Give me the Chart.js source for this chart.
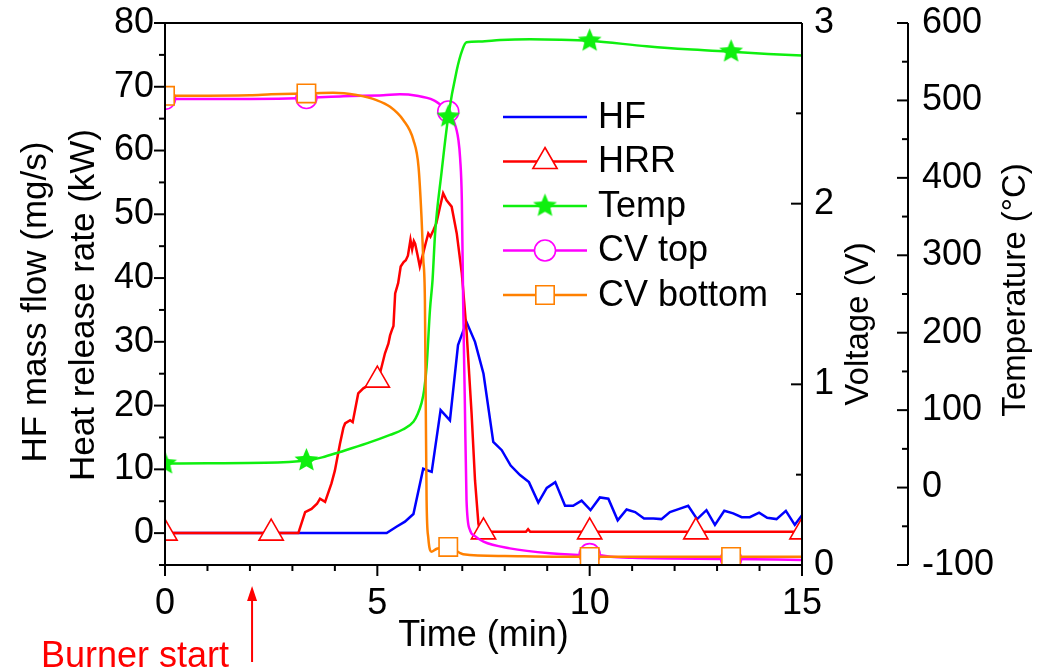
<!DOCTYPE html>
<html><head><meta charset="utf-8">
<script src="https://cdn.jsdelivr.net/npm/chart.js@4.4.0/dist/chart.umd.min.js"></script>
<style>html,body{margin:0;padding:0;background:#fff;}#wrap{width:1045px;height:672px;}</style>
</head><body><div id="wrap"><canvas id="c" width="1045" height="672"></canvas></div>
<script>
// ---------- data ----------
const hfTime  = [0, 5.22, 5.45, 5.65, 5.85, 6.08, 6.28, 6.49, 6.71, 6.9, 7.1, 7.3, 7.5, 7.73, 7.93, 8.14, 8.36, 8.57, 8.79, 8.99, 9.19, 9.42, 9.61, 9.81, 10.02, 10.24, 10.44, 10.66, 10.87, 11.07, 11.28, 11.5, 11.69, 11.89, 12.11, 12.32, 12.53, 12.75, 12.95, 13.17, 13.38, 13.58, 13.77, 13.99, 14.18, 14.4, 14.62, 14.83, 15.0];
const hfValue = [0, 0, 1.0, 1.8, 3.0, 10.1, 9.6, 19.3, 17.7, 29.5, 33.1, 30.0, 25.0, 14.3, 13.0, 10.6, 9.1, 8.0, 4.8, 7.1, 8.0, 4.3, 4.3, 5.1, 3.6, 5.6, 5.4, 2.0, 3.7, 3.3, 2.3, 2.3, 2.2, 3.3, 3.8, 4.3, 2.2, 3.6, 1.3, 3.5, 3.1, 2.5, 2.5, 3.2, 2.4, 2.2, 3.5, 1.3, 2.8];

const hrrTime  = [0, 2.5, 3.14, 3.30, 3.45, 3.58, 3.65, 3.77, 3.92, 4.0, 4.12, 4.2, 4.24, 4.36, 4.42, 4.55, 4.67, 4.8, 5.0, 5.06, 5.18, 5.26, 5.30, 5.34, 5.38, 5.42, 5.49, 5.55, 5.62, 5.67, 5.72, 5.78, 5.82, 5.86, 5.89, 5.95, 6.0, 6.08, 6.14, 6.2, 6.25, 6.32, 6.39, 6.47, 6.55, 6.63, 6.75, 6.87, 6.99, 7.1, 7.22, 7.3, 7.38, 7.42, 7.5, 8.5, 8.55, 8.6, 10, 12.5, 15];
const hrrValue = [0, 0, 0, 3.3, 3.8, 4.6, 5.4, 4.9, 7.8, 9.8, 14.0, 16.5, 17.2, 17.7, 17.4, 21.9, 22.7, 23.2, 24.0, 25.0, 28.2, 29.7, 31.0, 31.8, 32.5, 37.6, 39.2, 41.8, 42.5, 42.8, 43.5, 46.0, 44.5, 45.8, 45.4, 43.5, 41.8, 43.9, 45.5, 47.0, 46.5, 47.5, 48.6, 51.0, 53.3, 52.2, 51.2, 47.0, 40.7, 31.8, 18.7, 8.3, 1.5, 0.2, 0.2, 0.2, 0.6, 0.2, 0.2, 0.2, 0.2];
const hrrMarkers = [0, 2.5, 5, 7.5, 10, 12.5, 15];

const tempTime  = [0, 1, 2.35, 3.33, 3.7, 4.12, 4.75, 5.3, 5.6, 5.85, 5.95, 6.04, 6.1, 6.16, 6.24, 6.3, 6.36, 6.51, 6.67, 6.87, 7.0, 7.1, 7.42, 7.89, 8.59, 9.3, 10, 11.34, 12.3, 13.33, 14.2, 15];
const tempValue = [31, 31.5, 32, 35, 39, 46, 57, 68, 75, 85, 95, 109, 125, 156, 230, 268, 328, 406, 479, 539, 565, 575, 576, 578, 579, 578.5, 577, 570, 566, 563, 560, 558];
const tempMarkers = [0, 3.33, 6.67, 10, 13.33];

const cvTopTime  = [0, 2, 3.33, 4.2, 5.14, 5.53, 5.93, 6.32, 6.55, 6.67, 6.79, 6.91, 6.95, 6.99, 7.02, 7.06, 7.1, 7.18, 7.3, 7.5, 8.12, 9.06, 9.93, 10, 10.5, 11, 13.33, 15];
const cvTopValue = [2.58, 2.58, 2.585, 2.595, 2.60, 2.605, 2.597, 2.573, 2.536, 2.51, 2.463, 2.352, 2.25, 2.02, 1.47, 0.91, 0.36, 0.194, 0.16, 0.129, 0.092, 0.065, 0.055, 0.06, 0.045, 0.04, 0.033, 0.028];
const cvTopMarkers = [0, 3.33, 6.67, 10, 13.33];

const cvBotTime  = [0, 2, 2.5, 3.33, 3.96, 4.51, 4.98, 5.3, 5.61, 5.85, 5.97, 6.04, 6.08, 6.12, 6.14, 6.16, 6.2, 6.28, 6.4, 6.67, 7.02, 8, 10, 13.33, 15];
const cvBotValue = [2.597, 2.6, 2.605, 2.61, 2.614, 2.601, 2.573, 2.536, 2.463, 2.352, 2.204, 1.927, 1.7, 1.467, 0.9, 0.36, 0.15, 0.074, 0.09, 0.1, 0.06, 0.05, 0.045, 0.045, 0.045];
const cvBotMarkers = [0, 3.33, 6.67, 10, 13.33];

const xTicks = [0, 5, 10, 15];
const leftTicks = [0, 10, 20, 30, 40, 50, 60, 70, 80];
const voltTicks = [0, 1, 2, 3];
const tempTicks = [-100, 0, 100, 200, 300, 400, 500, 600];
const burnerStart = 2.05;
const seriesNames = ['HF', 'HRR', 'Temp', 'CV top', 'CV bottom'];

// ---------- helpers ----------
const FONT = '"Liberation Sans", Arial, sans-serif';
const FS = 36;
function pts(t, v) { return t.map((x, i) => ({x: x, y: v[i]})); }
function makeStar(r, color) {
  const s = Math.ceil(r * 2 + 4);
  const c = document.createElement('canvas');
  c.width = s; c.height = s;
  const g = c.getContext('2d');
  g.beginPath();
  for (let i = 0; i < 10; i++) {
    const a = -Math.PI / 2 + i * Math.PI / 5;
    const rr = i % 2 ? r * 0.45 : r;
    g.lineTo(s / 2 + rr * Math.cos(a), s / 2 + rr * Math.sin(a));
  }
  g.closePath(); g.fillStyle = color; g.fill();
  return c;
}
const GREEN = '#0FEF0F';
const star = makeStar(12.5, GREEN);
function markerRadius(list, r) {
  return ctx => (ctx.raw && list.some(m => Math.abs(m - ctx.raw.x) < 1e-9)) ? r : 0;
}

const datasets = [
  {label: 'CV bottom', data: pts(cvBotTime, cvBotValue), yAxisID: 'yV', borderColor: '#FF8000', backgroundColor: '#FFFFFF',
   borderWidth: 2.5, pointStyle: 'rect', pointRadius: markerRadius(cvBotMarkers, 13), pointBorderWidth: 1.6,
   pointBackgroundColor: '#FFFFFF', pointBorderColor: '#FF8000', cubicInterpolationMode: 'monotone', order: 0},
  {label: 'Temp', data: pts(tempTime, tempValue), yAxisID: 'yT', borderColor: GREEN, backgroundColor: GREEN,
   borderWidth: 2.5, pointStyle: star, pointRadius: markerRadius(tempMarkers, 12), cubicInterpolationMode: 'monotone', order: 1},
  {label: 'CV top', data: pts(cvTopTime, cvTopValue), yAxisID: 'yV', borderColor: '#FF00FF', backgroundColor: '#FFFFFF',
   borderWidth: 2.5, pointStyle: 'circle', pointRadius: markerRadius(cvTopMarkers, 10.5), pointBorderWidth: 1.6,
   pointBackgroundColor: '#FFFFFF', pointBorderColor: '#FF00FF', cubicInterpolationMode: 'monotone', order: 2},
  {label: 'HRR', data: pts(hrrTime, hrrValue), yAxisID: 'y', borderColor: '#FF0000', backgroundColor: '#FFFFFF',
   borderWidth: 2.5, pointStyle: 'triangle', pointRadius: markerRadius(hrrMarkers, 14), pointBorderWidth: 1.6,
   pointBackgroundColor: '#FFFFFF', pointBorderColor: '#FF0000', tension: 0, order: 3},
  {label: 'HF', data: pts(hfTime, hfValue), yAxisID: 'y', borderColor: '#0000FF', backgroundColor: '#0000FF',
   borderWidth: 2.5, pointRadius: 0, tension: 0, order: 4}
];
datasets.forEach(d => { d.clip = 0; d.pointHoverRadius = d.pointRadius; });

// ---------- custom drawing: axes, ticks, titles, legend, annotation ----------
function drawMarker(ctx, ds, x, y) {
  const st = ds.pointStyle;
  if (st && typeof st === 'object') { ctx.drawImage(st, x - st.width / 2, y - st.height / 2); return; }
  if (!st) return;
  const r = {rect: 13, circle: 10.5, triangle: 14}[st];
  ctx.save();
  ctx.fillStyle = '#FFFFFF'; ctx.strokeStyle = ds.borderColor; ctx.lineWidth = 1.6;
  if (Chart.helpers && Chart.helpers.drawPoint) {
    Chart.helpers.drawPoint(ctx, {pointStyle: st, radius: r, rotation: 0, borderWidth: 1.6}, x, y);
  }
  ctx.restore();
}

const decor = {
  id: 'decor',
  afterDraw(chart) {
    const ctx = chart.ctx, a = chart.chartArea;
    const sx = chart.scales.x, sy = chart.scales.y, sv = chart.scales.yV, st = chart.scales.yT;
    ctx.save();
    ctx.strokeStyle = '#000'; ctx.lineWidth = 2;
    const L = (x1, y1, x2, y2) => { ctx.beginPath(); ctx.moveTo(x1, y1); ctx.lineTo(x2, y2); ctx.stroke(); };
    const MAJ = 11, MIN = 6;
    L(a.left, a.top, a.left, a.bottom);
    L(a.left - MAJ, a.top, a.right, a.top);
    L(a.left, a.bottom, a.right, a.bottom);
    L(a.right, a.top, a.right, a.bottom);
    const tx = st.left;
    L(tx, a.top, tx, a.bottom);
    const isMaj = (v, m) => Math.abs(v / m - Math.round(v / m)) < 1e-6;
    for (let v = -5; v <= 80.001; v += 5) {
      const y = sy.getPixelForValue(v);
      L(a.left, y, a.left - (isMaj(v, 10) ? MAJ : MIN), y);
    }
    for (let v = 0; v <= 15.001; v += 1) {
      const x = sx.getPixelForValue(v);
      L(x, a.bottom, x, a.bottom + (isMaj(v, 5) ? MAJ : MIN));
    }
    for (let v = 0; v <= 3.001; v += 0.5) {
      const y = sv.getPixelForValue(v);
      L(a.right, y, a.right - (isMaj(v, 1) ? MAJ : MIN), y);
    }
    for (let v = -100; v <= 600.001; v += 50) {
      const y = st.getPixelForValue(v);
      L(tx, y, tx - (isMaj(v, 100) ? MAJ : MIN), y);
    }
    // axis titles
    ctx.fillStyle = '#000';
    ctx.font = FS + 'px ' + FONT;
    ctx.textAlign = 'center'; ctx.textBaseline = 'middle';
    ctx.fillText('Time (min)', (a.left + a.right) / 2, 636);
    const vt = (txt, x, y, size) => {
      ctx.save(); ctx.font = size + 'px ' + FONT; ctx.translate(x, y); ctx.rotate(-Math.PI / 2);
      ctx.fillText(txt, 0, 0); ctx.restore();
    };
    vt('HF mass flow (mg/s)', 36, 302, 35);
    vt('Heat release rate (kW)', 84, 305, 35);
    vt('Voltage (V)', 859, 324, 33);
    vt('Temperature (\u00B0C)', 1016, 290, 33);
    // legend
    ctx.textAlign = 'left';
    const byLabel = {}; chart.data.datasets.forEach(d => byLabel[d.label] = d);
    seriesNames.forEach((name, i) => {
      const d = byLabel[name];
      const y = 117 + i * 44.5;
      ctx.strokeStyle = d.borderColor; ctx.lineWidth = 2.5;
      L(503, y, 587, y);
      drawMarker(ctx, d, 545, y);
      ctx.fillStyle = '#000';
      ctx.fillText(name, 598, y + 1);
    });
    // burner start annotation
    const bx = sx.getPixelForValue(burnerStart);
    ctx.strokeStyle = '#FF0000'; ctx.fillStyle = '#FF0000'; ctx.lineWidth = 2;
    L(bx, 662, bx, 598);
    ctx.beginPath(); ctx.moveTo(bx, 586); ctx.lineTo(bx - 5, 601); ctx.lineTo(bx + 5, 601); ctx.closePath(); ctx.fill();
    ctx.textAlign = 'right';
    ctx.fillText('Burner start', bx - 23, 657);
    ctx.restore();
  }
};

const tickFont = {family: FONT, size: FS};
const noPad = s => { s.paddingTop = 0; s.paddingBottom = 0; s.paddingLeft = 0; s.paddingRight = 0; };
const setTicks = list => s => { s.ticks = list.map(v => ({value: v})); };
new Chart(document.getElementById('c'), {
  type: 'line',
  data: {datasets: datasets},
  options: {
    responsive: false, animation: false, events: [],
    layout: {padding: {top: 23, left: 0, right: 0, bottom: 0}},
    plugins: {legend: {display: false}, tooltip: {enabled: false}},
    scales: {
      x: {type: 'linear', position: 'bottom', min: 0, max: 15, afterBuildTicks: setTicks(xTicks),
          ticks: {font: tickFont, color: '#000', padding: 17, maxRotation: 0, autoSkip: false},
          grid: {display: false, drawTicks: false}, border: {display: false},
          afterFit: s => { s.height = 107; noPad(s); }},
      y: {type: 'linear', position: 'left', min: -5, max: 80, afterBuildTicks: setTicks(leftTicks),
          ticks: {font: tickFont, color: '#000', padding: 11, autoSkip: false},
          grid: {display: false, drawTicks: false}, border: {display: false},
          afterFit: s => { s.width = 165; noPad(s); }},
      yV: {type: 'linear', position: 'right', weight: 0, min: 0, max: 3, afterBuildTicks: setTicks(voltTicks),
          ticks: {font: tickFont, color: '#000', padding: 12, autoSkip: false},
          grid: {display: false, drawTicks: false}, border: {display: false},
          afterFit: s => { s.width = 106; noPad(s); }},
      yT: {type: 'linear', position: 'right', weight: 1, min: -100, max: 600, afterBuildTicks: setTicks(tempTicks),
          ticks: {font: tickFont, color: '#000', padding: 14, autoSkip: false},
          grid: {display: false, drawTicks: false}, border: {display: false},
          afterFit: s => { s.width = 137; noPad(s); }}
    }
  },
  plugins: [decor]
});
</script></body></html>
